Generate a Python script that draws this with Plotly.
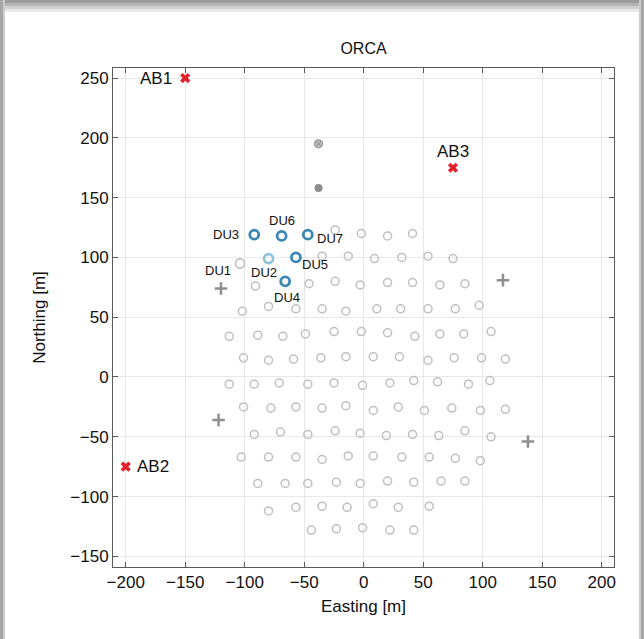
import plotly.graph_objects as go

# ---------------- data ----------------
# Grey detection-unit positions (Easting, Northing) [m]
grid_x = [
    -24, -2, 20, 41,
    -35, -13, 9, 32, 54, 75,
    -91, -46, -24, -3, 20, 41, 64, 85,
    -102, -80, -57, -35, -15, 11, 31, 54, 77, 97,
    -113, -89, -68, -49, -25, -2, 20, 43, 64, 84, 107,
    -101, -80, -59, -36, -15, 8, 30, 54, 76, 99, 119,
    -113, -92, -71, -47, -25, -1, 22, 42, 62, 88, 106,
    -101, -78, -57, -35, -15, 8, 29, 51, 74, 98, 119,
    -92, -70, -47, -24, -3, 19, 41, 63, 85, 107,
    -103, -80, -57, -35, -13, 8, 32, 55, 77, 98,
    -89, -66, -47, -23, -3, 20, 42, 65, 85,
    -80, -57, -35, -14, 8, 29, 55,
    -44, -23, -1, 22, 42,
]
grid_y = [
    123, 120, 118, 120,
    101, 101, 99, 100, 101, 99,
    76, 78, 80, 77, 79, 79, 77, 78,
    55, 59, 57, 57, 55, 57, 57, 57, 57, 60,
    34, 35, 34, 36, 38, 38, 37, 34, 36, 36, 38,
    16, 14, 15, 16, 17, 17, 17, 14, 16, 16, 15,
    -6, -6, -5, -6, -5, -7, -5, -3, -4, -6, -3,
    -25, -26, -25, -26, -24, -28, -25, -28, -26, -28, -27,
    -48, -46, -48, -45, -47, -49, -48, -49, -45, -50,
    -67, -67, -67, -69, -66, -66, -67, -67, -68, -70,
    -89, -89, -89, -88, -89, -87, -88, -87, -87,
    -112, -109, -108, -109, -106, -109, -108,
    -128, -127, -126, -128, -128,
]

# Deployed detection units
du_names = ["DU1", "DU2", "DU3", "DU4", "DU5", "DU6", "DU7"]
du_x = [-104, -80, -92, -66, -57, -69, -47]
du_y = [95, 99, 119, 80, 100, 118, 119]

# Other grey markers
plus_x = [-120, 117, -122, 138, -49]
plus_y = [74, 81, -36, -54, -159.5]
dot_x = [-38]
dot_y = [158]
xmark_x = [-38]
xmark_y = [195]

# Anchor boxes
ab_names = ["AB1", "AB2", "AB3"]
ab_x = [-150, -200, 75]
ab_y = [250, -75, 175]

x_ticks = [-200, -150, -100, -50, 0, 50, 100, 150, 200]
y_ticks = [-150, -100, -50, 0, 50, 100, 150, 200, 250]

# ---------------- styling ----------------
W, H = 644, 639
ML, MR, MT, MB = 113, 30, 68, 72
PW, PH = W - ML - MR, H - MT - MB
FONT = "Liberation Sans, Arial, Helvetica, sans-serif"

du_colors = ["#bdbdbd", "#8cc3dc", "#3a87b2", "#3a87b2", "#3a87b2", "#3a87b2", "#3a87b2"]
du_widths = [1.6, 2.6, 2.8, 2.8, 2.8, 2.8, 2.8]
du_shift = {  # label offsets in pixels (xshift, yshift)
    "DU1": (-22, -7), "DU2": (-5, -14), "DU3": (-28, 0), "DU4": (2, -16),
    "DU5": (19, -7), "DU6": (0, 15), "DU7": (22, -4),
}
ab_shift = {"AB1": (-29, 0), "AB2": (27, 0), "AB3": (0, 16)}

fig = go.Figure()

fig.add_trace(go.Scatter(
    x=grid_x, y=grid_y, mode="markers", hoverinfo="skip",
    marker=dict(symbol="circle-open", size=8, color="#c0c0c0", line=dict(width=1.5)),
))
fig.add_trace(go.Scatter(
    x=plus_x, y=plus_y, mode="markers", cliponaxis=False,
    marker=dict(symbol="cross-thin-open", size=9, color="#8f8f8f", line=dict(width=2.5, color="#8f8f8f")),
))
fig.add_trace(go.Scatter(
    x=dot_x, y=dot_y, mode="markers",
    marker=dict(symbol="circle", size=8, color="#8c8c8c"),
))
fig.add_trace(go.Scatter(
    x=xmark_x, y=xmark_y, mode="markers",
    marker=dict(symbol="circle-x", size=8, color="#c4c4c4", line=dict(width=1.2, color="#9a9a9a")),
))
fig.add_trace(go.Scatter(
    x=du_x, y=du_y, mode="markers",
    marker=dict(symbol="circle-open", size=9, color=du_colors, line=dict(width=du_widths)),
))
fig.add_trace(go.Scatter(
    x=ab_x, y=ab_y, mode="markers", cliponaxis=False,
    marker=dict(symbol="x", size=9, color="#e3202b", line=dict(width=0)),
))

ann = []
for n, x, y in zip(du_names, du_x, du_y):
    dx, dy = du_shift[n]
    ann.append(dict(x=x, y=y, text=n, showarrow=False, xshift=dx, yshift=dy,
                    xanchor="center", yanchor="middle",
                    font=dict(size=13, color="#111", family=FONT)))
for n, x, y in zip(ab_names, ab_x, ab_y):
    dx, dy = ab_shift[n]
    ann.append(dict(x=x, y=y, text=n, showarrow=False, xshift=dx, yshift=dy,
                    xanchor="center", yanchor="middle",
                    font=dict(size=17, color="#111", family=FONT)))

# drop-shadow frame of the photographed figure
def px2paper(px, py):
    return (px - ML) / PW, 1 - (py - MT) / PH

shapes = []
bands = [
    # (x0, y0, x1, y1, colour) in pixels
    (0, 0, W, 3, "#9c9c9c"), (0, 3, W, 6, "#b4b4b4"),
    (0, 6, W, 9, "#d0d0d0"), (0, 9, W, 12, "#eaeaea"),
    (0, 0, 3, H, "#a6a6a6"), (3, 0, 5, H, "#cdcdcd"),
    (W - 3, 0, W, H, "#a6a6a6"), (W - 5, 0, W - 3, H, "#cdcdcd"),
]
for x0, y0, x1, y1, c in bands:
    a0, b0 = px2paper(x0, y0)
    a1, b1 = px2paper(x1, y1)
    shapes.append(dict(type="rect", xref="paper", yref="paper", x0=a0, x1=a1, y0=b0, y1=b1,
                       fillcolor=c, line=dict(width=0), layer="below"))

axis_common = dict(
    showgrid=True, gridcolor="#e8e8e8", gridwidth=1, zeroline=False,
    showline=True, linecolor="#5a5a5a", linewidth=1, mirror="allticks",
    ticks="inside", ticklen=5, tickcolor="#5a5a5a", tickwidth=1,
    tickfont=dict(size=17, color="#111", family=FONT),
)

fig.update_layout(
    width=W, height=H, showlegend=False,
    paper_bgcolor="white", plot_bgcolor="white",
    margin=dict(l=ML, r=MR, t=MT, b=MB, pad=0),
    title=dict(text="ORCA", x=(ML + PW / 2) / W, xanchor="center", y=1 - 48 / H, yanchor="middle",
               font=dict(size=16, color="#111", family=FONT)),
    xaxis=dict(range=[-210.7, 210.3], tickvals=x_ticks,
               title=dict(text="Easting [m]", font=dict(size=17, color="#111", family=FONT), standoff=8),
               **axis_common),
    yaxis=dict(range=[-158.9, 258.4], tickvals=y_ticks,
               title=dict(text="Northing [m]", font=dict(size=17, color="#111", family=FONT), standoff=20),
               **axis_common),
    annotations=ann, shapes=shapes,
)

fig.write_html(
    "out.html",
    config={"displayModeBar": False},
    post_script="document.body.style.margin='0';document.body.style.padding='0';"
                "document.documentElement.style.overflow='hidden';",
)
